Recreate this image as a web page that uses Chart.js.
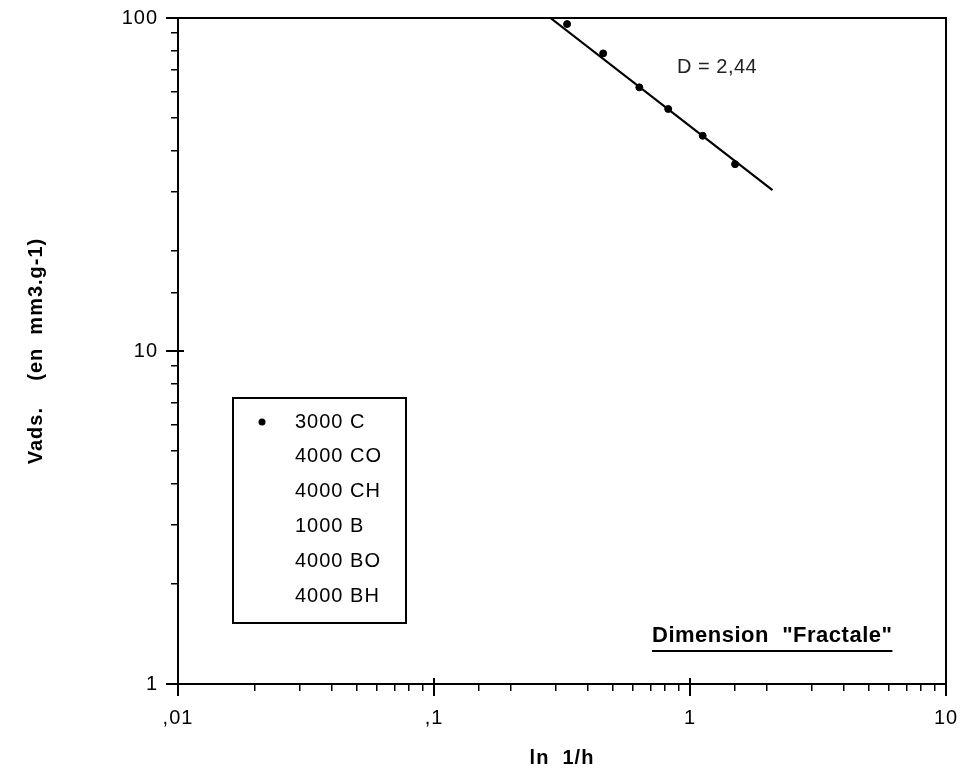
<!DOCTYPE html>
<html>
<head>
<meta charset="utf-8">
<script src="https://cdn.jsdelivr.net/npm/chart.js@4.4.1/dist/chart.umd.min.js"></script>
<style>
  html, body { margin: 0; padding: 0; background: #fff; }
  #wrap { width: 962px; height: 770px; }
</style>
</head>
<body>
<div id="wrap"><canvas id="chart" width="962" height="770"></canvas></div>
<script>
// series names shown in the legend box
const seriesLabels = ['3000 C', '4000 CO', '4000 CH', '1000 B', '4000 BO', '4000 BH'];

// measured points, 3000 C
const xValues = [0.331, 0.458, 0.634, 0.822, 1.121, 1.50];
const yValues = [95.9, 78.3, 61.9, 53.3, 44.3, 36.4];

// fitted line ends
const fitX = [0.285, 2.1];
const fitY = [100, 30.4];

// tick labels
const xMajor = [0.01, 0.1, 1, 10];
const xMajorLabels = [',01', ',1', '1', '10'];
const yMajor = [1, 10, 100];
const yMajorLabels = ['1', '10', '100'];

const FONT = '"Liberation Sans", Arial, sans-serif';

function labelFor(v, majors, labels) {
  for (let i = 0; i < majors.length; i++) {
    if (Math.abs(majors[i] - v) / majors[i] < 1e-9) return labels[i];
  }
  return '';
}

const datasets = seriesLabels.map((name, i) => ({
  type: 'scatter',
  label: name,
  data: i === 0 ? xValues.map((x, k) => ({ x: x, y: yValues[k] })) : [],
  backgroundColor: '#000',
  borderColor: '#000',
  pointRadius: 3.5,
  pointHoverRadius: 3.5
}));

datasets.push({
  type: 'line',
  label: 'fit',
  data: fitX.map((x, k) => ({ x: x, y: fitY[k] })),
  borderColor: '#000',
  borderWidth: 2.2,
  pointRadius: 0,
  fill: false
});

// letter spacing to get closer to the wide scanned lettering
const spacingPlugin = {
  id: 'spacing',
  beforeLayout(chart) { chart.ctx.letterSpacing = '1px'; },
  beforeDraw(chart) { chart.ctx.letterSpacing = '1px'; }
};

const framePlugin = {
  id: 'frame',
  afterDraw(chart) {
    const { ctx, chartArea: a, scales } = chart;
    const xs = scales.x, ys = scales.y;
    ctx.save();
    ctx.strokeStyle = '#000';
    ctx.lineWidth = 2;
    ctx.strokeRect(a.left, a.top, a.right - a.left, a.bottom - a.top);

    // longer major ticks, crossing the axis
    xMajor.forEach(v => {
      const px = xs.getPixelForValue(v);
      ctx.beginPath();
      ctx.moveTo(px, a.bottom - 6);
      ctx.lineTo(px, a.bottom + 12);
      ctx.stroke();
    });
    yMajor.forEach(v => {
      const py = ys.getPixelForValue(v);
      ctx.beginPath();
      ctx.moveTo(a.left - 12, py);
      ctx.lineTo(a.left + 6, py);
      ctx.stroke();
    });

    // legend box
    const bx = a.left + 55, by = 398, bw = 173, bh = 225;
    ctx.fillStyle = '#fff';
    ctx.fillRect(bx, by, bw, bh);
    ctx.strokeRect(bx, by, bw, bh);
    ctx.letterSpacing = '1px';
    ctx.font = '20px ' + FONT;
    ctx.textBaseline = 'middle';
    ctx.textAlign = 'left';
    chart.data.datasets.filter(d => seriesLabels.includes(d.label)).forEach((d, i) => {
      const ty = by + 24 + i * 34.8;
      ctx.fillStyle = '#000';
      if (d.data.length) {
        ctx.beginPath();
        ctx.arc(bx + 29, ty, 3.5, 0, Math.PI * 2);
        ctx.fill();
      }
      ctx.fillText(d.label, bx + 62, ty);
    });

    // slope note
    ctx.letterSpacing = '0.5px';
    ctx.font = '20px ' + FONT;
    ctx.fillStyle = '#222';
    ctx.fillText('D = 2,44', xs.getPixelForValue(0.89), ys.getPixelForValue(70.8));

    // caption, underlined
    ctx.font = 'bold 22px ' + FONT;
    ctx.fillStyle = '#000';
    const cap = 'Dimension  "Fractale"';
    const cx = a.left + 474, cy = 636;
    ctx.fillText(cap, cx, cy);
    const w = ctx.measureText(cap).width;
    ctx.fillRect(cx, cy + 14, w, 2);
    ctx.restore();
  }
};

new Chart(document.getElementById('chart'), {
  type: 'scatter',
  data: { datasets: datasets },
  options: {
    responsive: false,
    animation: false,
    events: [],
    layout: { padding: { top: 18, right: 16, left: 0, bottom: 0 } },
    plugins: {
      legend: { display: false },
      tooltip: { enabled: false }
    },
    scales: {
      x: {
        type: 'logarithmic',
        position: 'bottom',
        min: 0.01,
        max: 10,
        afterFit(scale) {
          scale.height = 86;
          scale.paddingLeft = 0;
          scale.paddingRight = 0;
        },
        border: { display: true, color: '#000', width: 2 },
        grid: { drawOnChartArea: false, drawTicks: true, tickLength: 7, color: '#000', lineWidth: 1.5 },
        ticks: {
          autoSkip: false,
          maxRotation: 0,
          padding: 15,
          color: '#000',
          font: { family: FONT, size: 20 },
          callback: v => labelFor(v, xMajor, xMajorLabels)
        },
        title: {
          display: true,
          text: 'ln  1/h',
          color: '#000',
          padding: { top: 0, bottom: 0 },
          font: { family: FONT, size: 20, weight: 'bold' }
        }
      },
      y: {
        type: 'logarithmic',
        position: 'left',
        min: 1,
        max: 100,
        afterFit(scale) {
          scale.width = 178;
          scale.paddingTop = 0;
          scale.paddingBottom = 0;
        },
        border: { display: true, color: '#000', width: 2 },
        grid: { drawOnChartArea: false, drawTicks: true, tickLength: 7, color: '#000', lineWidth: 1.5 },
        ticks: {
          autoSkip: false,
          padding: 13,
          color: '#000',
          font: { family: FONT, size: 20 },
          callback: v => labelFor(v, yMajor, yMajorLabels)
        },
        title: {
          display: true,
          text: 'Vads.    (en  mm3.g-1)',
          color: '#000',
          padding: { top: 24, bottom: 0 },
          font: { family: FONT, size: 20, weight: 'bold' }
        }
      }
    }
  },
  plugins: [spacingPlugin, framePlugin]
});
</script>
</body>
</html>
